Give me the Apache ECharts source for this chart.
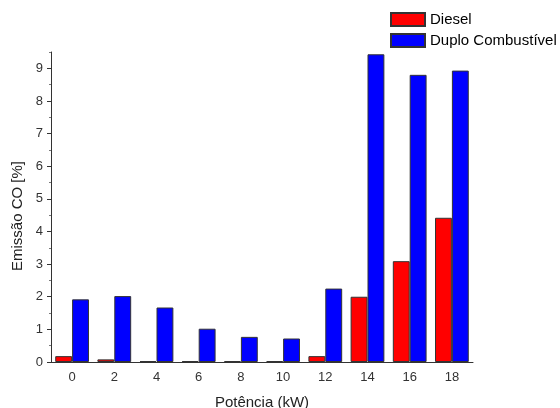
<!DOCTYPE html>
<html>
<head>
<meta charset="utf-8">
<script src="https://cdn.jsdelivr.net/npm/echarts@6/dist/echarts.min.js"></script>
<style>
  html, body { margin: 0; padding: 0; background: #fff; }
  #main { width: 560px; height: 408px; }
</style>
</head>
<body>
<div id="main"></div>
<script>
// potência (kW)
var categories = ['0', '2', '4', '6', '8', '10', '12', '14', '16', '18'];
// emissão CO [%]
var diesel = [0.18, 0.08, 0.03, 0.03, 0.03, 0.03, 0.18, 2.0, 3.09, 4.42];
var duplo = [1.92, 2.02, 1.67, 1.02, 0.77, 0.72, 2.25, 9.43, 8.80, 8.93];
var yTicks = [0, 1, 2, 3, 4, 5, 6, 7, 8, 9];
var yMinorTicks = [0.5, 1.5, 2.5, 3.5, 4.5, 5.5, 6.5, 7.5, 8.5, 9.5];

var font = 'Liberation Sans, Arial, sans-serif';
var axisColor = '#333';

var chart = echarts.init(document.getElementById('main'));

var option = {
    animation: false,
    textStyle: { fontFamily: font },
    legend: {
        orient: 'vertical',
        left: 385,
        top: 7,
        itemWidth: 34,
        itemHeight: 13,
        itemGap: 6,
        icon: 'rect',
        textStyle: { fontSize: 15, color: '#000', fontFamily: font },
        data: ['Diesel', 'Duplo Combustível']
    },
    grid: { left: 51, right: 87, top: 52, bottom: 46, outerBoundsMode: 'none', containLabel: false },
    xAxis: {
        type: 'category',
        data: categories,
        name: 'Potência (kW)',
        nameLocation: 'middle',
        nameGap: 33,
        nameTextStyle: { fontSize: 15, color: '#222', fontFamily: font },
        axisLine: { lineStyle: { color: axisColor, width: 1 } },
        axisTick: { alignWithLabel: true, length: 4, lineStyle: { color: axisColor } },
        axisLabel: { fontSize: 13, color: '#333', margin: 9, fontFamily: font }
    },
    yAxis: [
        {
            type: 'value',
            min: 0,
            max: 9.5,
            interval: 1,
            name: 'Emissão CO [%]',
            nameLocation: 'middle',
            nameGap: 21,
            nameTextStyle: { fontSize: 15, color: '#222', fontFamily: font, padding: [0, 18, 0, 0] },
            axisLine: { show: true, lineStyle: { color: axisColor, width: 1 } },
            axisTick: { show: true, length: 4, customValues: yTicks, lineStyle: { color: axisColor } },
            axisLabel: { fontSize: 13, color: '#333', margin: 8, customValues: yTicks, fontFamily: font },
            splitLine: { show: false }
        },
        {
            type: 'value',
            min: 0,
            max: 9.5,
            position: 'left',
            axisLine: { show: false },
            axisTick: { show: true, length: 2, customValues: yMinorTicks, lineStyle: { color: '#777' } },
            axisLabel: { show: false },
            splitLine: { show: false }
        }
    ],
    series: [
        {
            name: 'Diesel',
            type: 'bar',
            data: diesel,
            barGap: '0%',
            barCategoryGap: '20%',
            itemStyle: { color: '#ff0000', borderColor: '#333', borderWidth: 1 }
        },
        {
            name: 'Duplo Combustível',
            type: 'bar',
            data: duplo,
            barGap: '0%',
            barCategoryGap: '20%',
            itemStyle: { color: '#0000ff', borderColor: '#333', borderWidth: 1 }
        }
    ]
};

chart.setOption(option);
</script>
</body>
</html>
